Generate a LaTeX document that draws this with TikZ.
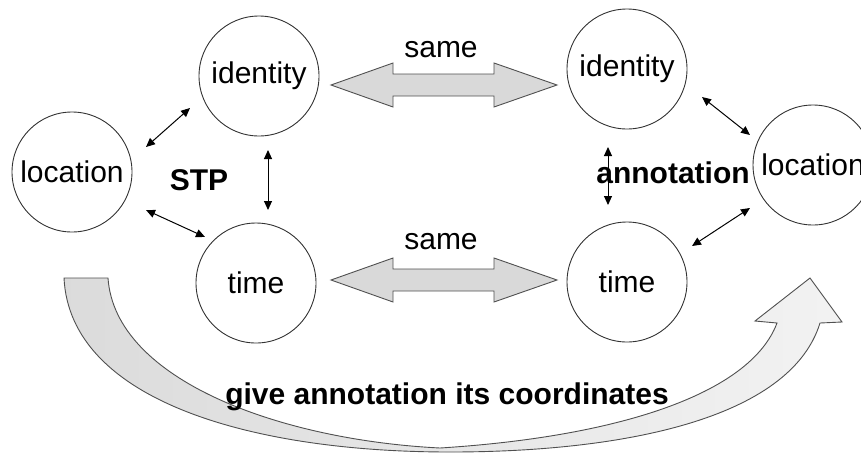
\documentclass[tikz,border=0pt]{standalone}
\usepackage{fontspec}
\setmainfont{Liberation Sans}
\usetikzlibrary{arrows.meta}

\definecolor{arrowgray}{HTML}{D9D9D9}
\definecolor{edgegray}{HTML}{505050}

\tikzset{
  concept/.style={circle, draw=black!80, line width=0.9pt, minimum size=120pt,
    inner sep=0pt, font=\fontsize{30}{36}\selectfont},
  plain/.style={font=\fontsize{30}{36}\selectfont, inner sep=0pt},
  bold/.style={font=\fontsize{30}{36}\selectfont\bfseries, inner sep=0pt},
  link/.style={line width=1pt, {Triangle[length=9pt,width=8pt]}-{Triangle[length=9pt,width=8pt]}},
  bigarrow/.style={fill=arrowgray, draw=edgegray, line width=0.9pt, line join=miter},
}

\begin{document}
\begin{tikzpicture}[x=1pt, y=-1pt]
  \useasboundingbox (0,0) rectangle (861,453);

  % sweeping arrow underneath everything
  \path[left color=black!14, right color=black!5, draw=edgegray, line width=0.9pt]
    (64,278) -- (108,278)
    .. controls (115,380) and (280,440) .. (440,448)
    .. controls (615,437) and (750,395) .. (777,323)
    -- (755,321) -- (810,278) -- (842,322) -- (820,323)
    .. controls (790,420) and (620,452) .. (450,452)
    .. controls (250,452) and (70,400) .. (64,278) -- cycle;

  % left group
  \node[concept] (idL)  at (259,76)  {identity};
  \node[concept] (locL) at (72,172)  {location};
  \node[concept] (timL) at (256,283) {time};

  % right group
  \node[concept] (idR)  at (627,69)  {identity};
  \node[concept] (locR) at (813,165) {location};
  \node[concept] (timR) at (627,282) {time};

  % labels
  \node[bold]  (stp)  at (199,180) {STP};
  \node[bold]  (ann)  at (673,173) {annotation};
  \node[plain] (sameTop) at (441,50)  {same};
  \node[plain] (sameBot) at (441,242) {same};
  \node[bold]  (give) at (447,397) {give annotation its coordinates};

  % endpoints of the short links
  \coordinate (a1) at (146,147); \coordinate (a2) at (190,108);
  \coordinate (b1) at (268,150); \coordinate (b2) at (268,210);
  \coordinate (c1) at (146,210); \coordinate (c2) at (205,237);
  \coordinate (d1) at (702,97);  \coordinate (d2) at (750,135);
  \coordinate (e1) at (608,147); \coordinate (e2) at (608,205);
  \coordinate (f1) at (750,208); \coordinate (f2) at (692,246);

  \draw[link] (a1) -- (a2);
  \draw[link] (b1) -- (b2);
  \draw[link] (c1) -- (c2);
  \draw[link] (d1) -- (d2);
  \draw[link] (e1) -- (e2);
  \draw[link] (f1) -- (f2);

  % wide double arrows between the groups
  \draw[bigarrow]
    (331,85) -- (393,63) -- (393,74) -- (494,74) -- (494,63) -- (557,85)
    -- (494,107) -- (494,96) -- (393,96) -- (393,107) -- cycle;
  \draw[bigarrow]
    (331,280) -- (393,258) -- (393,269) -- (494,269) -- (494,258) -- (557,280)
    -- (494,302) -- (494,291) -- (393,291) -- (393,302) -- cycle;
\end{tikzpicture}
\end{document}
